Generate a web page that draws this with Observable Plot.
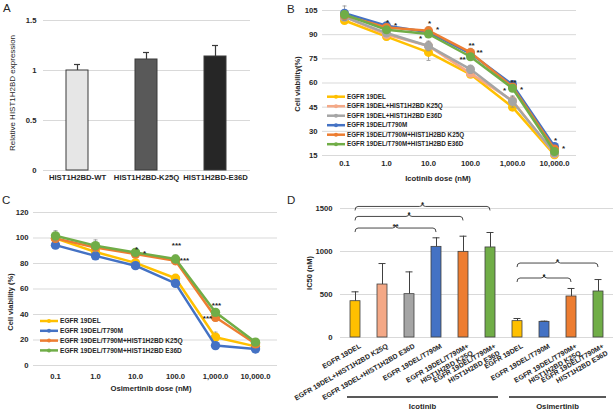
<!DOCTYPE html>
<html><head><meta charset="utf-8">
<script src="https://cdn.jsdelivr.net/npm/d3@7"></script>
<script src="https://cdn.jsdelivr.net/npm/@observablehq/plot@0.6"></script>
<style>
html,body{margin:0;padding:0;background:#fff;}
#fig{position:relative;width:615px;height:412px;overflow:hidden;background:#fff;}
</style></head><body><div id="fig"></div>
<script>
// ---------- Panel A data ----------
const aGroups = ["HIST1H2BD-WT", "HIST1H2BD-K25Q", "HIST1H2BD-E36D"];
const aValues = [1.0, 1.11, 1.14];
const aErrors = [0.06, 0.07, 0.11];
const aYTicks = [0, 0.5, 1, 1.5];
const aColors = ["#e6e6e6", "#595959", "#262626"];

// ---------- Panel B data (Icotinib) ----------
const doses = ["0.1", "1.0", "10.0", "100.0", "1,000.0", "10,000.0"];
const bSeries = ["EGFR 19DEL", "EGFR 19DEL+HIST1H2BD K25Q", "EGFR 19DEL+HIST1H2BD E36D",
  "EGFR 19DEL/T790M", "EGFR 19DEL/T790M+HIST1H2BD K25Q", "EGFR 19DEL/T790M+HIST1H2BD E36D"];
const bValues = [
  [98.8, 88.8, 79.0, 65.4, 45.0, 15.4],
  [101.0, 90.0, 83.0, 66.0, 49.0, 16.0],
  [101.0, 91.0, 83.0, 68.5, 48.5, 16.5],
  [103.3, 95.6, 91.5, 78.3, 59.0, 20.6],
  [102.0, 94.5, 92.5, 79.0, 57.5, 19.0],
  [102.5, 93.0, 90.4, 76.3, 56.7, 17.5]
];
const bErrors = [
  [1.5, 2.0, 5.0, 2.0, 2.0, 1.0],
  [1.5, 1.5, 2.5, 2.0, 2.5, 1.0],
  [2.0, 2.0, 3.0, 2.5, 3.5, 1.0],
  [4.5, 1.5, 2.0, 2.0, 1.5, 1.0],
  [2.5, 1.5, 2.5, 2.5, 2.0, 1.5],
  [2.5, 1.5, 2.0, 2.0, 2.0, 1.5]
];
const bYTicks = [15, 30, 45, 60, 75, 90, 105];
const bColors = ["#FFC000", "#F4A886", "#A5A5A5", "#4472C4", "#ED7D31", "#70AD47"];
const bStars = [
  {dose: "1.0", y: 99.2, text: "*", side: "center"},
  {dose: "1.0", y: 97.1, text: "*", side: "right"},
  {dose: "10.0", y: 98.4, text: "*", side: "center"},
  {dose: "10.0", y: 95.0, text: "*", side: "right"},
  {dose: "10.0", y: 89.5, text: "*", side: "left"},
  {dose: "100.0", y: 84.7, text: "**", side: "center"},
  {dose: "100.0", y: 80.6, text: "**", side: "right"},
  {dose: "100.0", y: 76.0, text: "**", side: "left"},
  {dose: "1,000.0", y: 62.2, text: "**", side: "center"},
  {dose: "1,000.0", y: 57.0, text: "*", side: "left"},
  {dose: "1,000.0", y: 57.8, text: "*", side: "right"},
  {dose: "10,000.0", y: 26.0, text: "*", side: "center"},
  {dose: "10,000.0", y: 21.2, text: "*", side: "right"}
];

// ---------- Panel C data (Osimertinib) ----------
const cSeries = ["EGFR 19DEL", "EGFR 19DEL/T790M", "EGFR 19DEL/T790M+HIST1H2BD K25Q", "EGFR 19DEL/T790M+HIST1H2BD E36D"];
const cValues = [
  [99.7, 89.0, 80.5, 68.4, 22.2, 15.0],
  [94.4, 86.0, 78.3, 64.4, 15.6, 13.0],
  [99.7, 92.6, 87.4, 82.2, 37.8, 17.0],
  [101.7, 94.0, 88.7, 83.5, 41.7, 18.3]
];
const cErrors = [
  [2.0, 2.0, 2.5, 2.0, 4.0, 1.0],
  [1.5, 1.5, 1.5, 1.5, 1.5, 1.0],
  [3.0, 3.0, 2.0, 3.0, 3.0, 1.5],
  [4.0, 4.5, 2.0, 3.0, 2.5, 1.5]
];
const cYTicks = [0, 20, 40, 60, 80, 100, 120];
const cColors = ["#FFC000", "#4472C4", "#ED7D31", "#70AD47"];
const cStars = [
  {dose: "10.0", y: 92.6, text: "*", side: "center"},
  {dose: "10.0", y: 90.0, text: "*", side: "right"},
  {dose: "100.0", y: 96.5, text: "***", side: "center"},
  {dose: "100.0", y: 84.0, text: "***", side: "right"},
  {dose: "1,000.0", y: 49.0, text: "***", side: "center"},
  {dose: "1,000.0", y: 39.0, text: "***", side: "left"}
];

// ---------- Panel D data (IC50) ----------
const dDrugs = ["Icotinib", "Icotinib", "Icotinib", "Icotinib", "Icotinib", "Icotinib",
  "Osimertinib", "Osimertinib", "Osimertinib", "Osimertinib"];
const dLabels = ["EGFR 19DEL", "EGFR 19DEL+HIST1H2BD K25Q", "EGFR 19DEL+HIST1H2BD E36D", "EGFR 19DEL/T790M",
  "EGFR 19DEL/T790M+\nHIST1H2BD K25Q", "EGFR 19DEL/T790M+\nHIST1H2BD E36D",
  "EGFR 19DEL", "EGFR 19DEL/T790M", "EGFR 19DEL/T790M+\nHIST1H2BD K25Q", "EGFR 19DEL/T790M+\nHIST1H2BD E36D"];
const dValues = [422, 616, 504, 1054, 996, 1047, 190, 182, 477, 535];
const dErrors = [109, 244, 259, 105, 182, 174, 31, 8, 93, 139];
const dYTicks = [0, 500, 1000, 1500];
const dGroups = ["Icotinib", "Osimertinib"];
const dColors = ["#FFC000", "#F4A886", "#A5A5A5", "#4472C4", "#ED7D31", "#70AD47", "#FFC000", "#4472C4", "#ED7D31", "#70AD47"];
const dBrackets = [
  {from: 0, to: 3, y: 1267, text: "**"},
  {from: 0, to: 4, y: 1402, text: "*"},
  {from: 0, to: 5, y: 1518, text: "*"},
  {from: 6, to: 8, y: 686, text: "*"},
  {from: 6, to: 9, y: 860, text: "*"}
];

// ---------- helpers ----------
const fig = document.getElementById("fig");
const FONT = '"Liberation Sans", Arial, Helvetica, sans-serif';
const TXT = "#262626";
function styleFor(fs) {
  return `overflow:visible;background:transparent;font-family:${FONT};font-size:${fs}px;font-weight:bold;color:${TXT};max-width:none;`;
}
function place(svg, left, top) {
  svg.style.position = "absolute";
  svg.style.left = left + "px";
  svg.style.top = top + "px";
  fig.appendChild(svg);
  return svg;
}
const capSymbol = {
  draw(ctx, size) { const w = Math.sqrt(size / Math.PI); ctx.moveTo(-w, 0); ctx.lineTo(w, 0); }
};
const sideDx = {left: -8, center: 1, right: 9};

function lineMarks(series, values, errors, colors, stars, r) {
  const marks = [];
  series.forEach((s, i) => {
    const rows = doses.map((d, j) => ({dose: d, value: values[i][j], err: errors[i][j]}));
    marks.push(
      Plot.ruleX(rows, {x: "dose", y1: d => d.value - d.err, y2: d => d.value + d.err, stroke: "#8c8c8c", strokeWidth: 0.8}),
      Plot.dot(rows, {x: "dose", y: d => d.value + d.err, symbol: capSymbol, r: 2, fill: "none", stroke: "#8c8c8c", strokeWidth: 0.8}),
      Plot.dot(rows, {x: "dose", y: d => d.value - d.err, symbol: capSymbol, r: 2, fill: "none", stroke: "#8c8c8c", strokeWidth: 0.8}),
      Plot.line(rows, {x: "dose", y: "value", stroke: colors[i], strokeWidth: 2.5}),
      Plot.dot(rows, {x: "dose", y: "value", fill: colors[i], r: r})
    );
  });
  for (const side of ["left", "center", "right"]) {
    marks.push(Plot.text(stars.filter(d => d.side === side),
      {x: "dose", y: "y", text: "text", dx: sideDx[side], dy: 2.5, fontSize: 8, fill: TXT}));
  }
  return marks;
}
function legend(svg, series, colors, x0, y0, step, fs) {
  const g = d3.select(svg).append("g").attr("text-anchor", "start");
  series.forEach((s, i) => {
    const y = y0 + i * step;
    g.append("line").attr("x1", x0).attr("x2", x0 + 18).attr("y1", y).attr("y2", y)
      .attr("stroke", colors[i]).attr("stroke-width", 2.5);
    g.append("circle").attr("cx", x0 + 9).attr("cy", y).attr("r", 2).attr("fill", colors[i]);
    g.append("text").attr("x", x0 + 20).attr("y", y).attr("dy", "0.35em").attr("text-anchor", "start")
      .attr("font-size", fs).attr("fill", TXT).text(s);
  });
}

// ---------- Panel A ----------
const aRows = aGroups.map((g, i) => ({group: g, value: aValues[i], err: aErrors[i]}));
const plotA = Plot.plot({
  width: 300, height: 195, marginLeft: 43, marginRight: 50, marginTop: 20, marginBottom: 25,
  style: styleFor(7.7),
  x: {domain: aGroups, paddingInner: 0.68, paddingOuter: 0.34, label: null, tickSize: 0, tickPadding: 4},
  y: {domain: [0, 1.5], ticks: aYTicks, tickFormat: d => String(d), label: null, tickSize: 0, tickPadding: 7},
  color: {domain: aGroups, range: aColors},
  marks: [
    Plot.ruleY(aYTicks, {stroke: "#d9d9d9"}),
    Plot.barY(aRows, {x: "group", y: "value", fill: "group", stroke: "#3a3a3a", strokeWidth: 1}),
    Plot.ruleX(aRows, {x: "group", y1: "value", y2: d => d.value + d.err, stroke: "#3a3a3a", strokeWidth: 1.2}),
    Plot.tickY(aRows, {x: "group", y: d => d.value + d.err, stroke: "#3a3a3a", strokeWidth: 1.2, insetLeft: 8, insetRight: 8})
  ]
});
place(plotA, 0, 0);

// ---------- Panel B ----------
const plotB = Plot.plot({
  width: 320, height: 195, marginLeft: 27, marginRight: 39, marginTop: 10, marginBottom: 40,
  style: styleFor(7.7),
  x: {type: "point", domain: doses, padding: 0.5, label: null, tickSize: 0, tickPadding: 5},
  y: {domain: [15, 105], ticks: bYTicks, label: null, tickSize: 0, tickPadding: 5},
  marks: [Plot.ruleY(bYTicks, {stroke: "#d9d9d9"}), ...lineMarks(bSeries, bValues, bErrors, bColors, bStars, 4.5)]
});
legend(plotB, bSeries, bColors, 32, 96.7, 9.5, 6.3);
place(plotB, 295, 0);

// ---------- Panel C ----------
const plotC = Plot.plot({
  width: 290, height: 217, marginLeft: 33, marginRight: 13, marginTop: 17, marginBottom: 47,
  style: styleFor(7.7),
  x: {type: "point", domain: doses, padding: 0.5, label: null, tickSize: 0, tickPadding: 8},
  y: {domain: [0, 120], ticks: cYTicks, label: null, tickSize: 0, tickPadding: 5},
  marks: [Plot.ruleY(cYTicks, {stroke: "#d9d9d9"}), ...lineMarks(cSeries, cValues, cErrors, cColors, cStars, 4.7)]
});
legend(plotC, cSeries, cColors, 40, 126, 9.8, 6.6);
place(plotC, 0, 195);

// ---------- Panel D ----------
const dKeys = dLabels.map((l, i) => dDrugs[i] + "|" + l);
const dRows = dKeys.map((k, i) => ({key: k, label: dLabels[i], value: dValues[i], err: dErrors[i]}));
const plotD = Plot.plot({
  width: 335, height: 217, marginLeft: 60, marginRight: 2, marginTop: 13, marginBottom: 75,
  style: styleFor(7.7),
  x: {domain: dKeys, paddingInner: 0.63, paddingOuter: 0.315, axis: null},
  y: {domain: [0, 1500], ticks: dYTicks, tickFormat: d => String(d), label: null, tickSize: 0, tickPadding: 8},
  color: {domain: dKeys, range: dColors},
  marks: [
    Plot.ruleY(dYTicks, {stroke: "#d9d9d9"}),
    Plot.barY(dRows, {x: "key", y: "value", fill: "key", stroke: "#404040", strokeWidth: 0.8}),
    Plot.ruleX(dRows, {x: "key", y1: "value", y2: d => d.value + d.err, stroke: "#404040", strokeWidth: 1}),
    Plot.tickY(dRows, {x: "key", y: d => d.value + d.err, stroke: "#404040", strokeWidth: 1, insetLeft: 1.5, insetRight: 1.5}),
    Plot.text(dRows, {x: "key", text: "label", frameAnchor: "bottom", rotate: -30, textAnchor: "end",
      lineAnchor: "top", dx: 3, dy: 5, fontSize: 7, lineHeight: 1.15, fill: TXT})
  ]
});
{
  const xs = plotD.scale("x"), ys = plotD.scale("y");
  const bw = xs.bandwidth;
  const cx = i => xs.apply(dKeys[i]) + bw / 2;
  const g = d3.select(plotD).append("g");
  dBrackets.forEach(b => {
    const x1 = cx(b.from), x2 = cx(b.to), y = ys.apply(b.y), m = (x1 + x2) / 2;
    g.append("path")
      .attr("d", `M${x1},${y + 4}Q${x1},${y} ${x1 + 3},${y}L${m - 3},${y}Q${m},${y} ${m},${y - 3}Q${m},${y} ${m + 3},${y}L${x2 - 3},${y}Q${x2},${y} ${x2},${y + 4}`)
      .attr("fill", "none").attr("stroke", "#333").attr("stroke-width", 0.9);
    g.append("text").attr("x", m).attr("y", y + 0.5).attr("text-anchor", "middle")
      .attr("font-size", 8).attr("fill", TXT).text(b.text);
  });
  const yLine = ys.apply(0) + 60;
  dGroups.forEach(grp => {
    const idx = dDrugs.map((d, i) => d === grp ? i : -1).filter(i => i >= 0);
    const x1 = xs.apply(dKeys[idx[0]]) - 3;
    const x2 = xs.apply(dKeys[idx[idx.length - 1]]) + bw + 3;
    g.append("line").attr("x1", x1).attr("x2", x2).attr("y1", yLine).attr("y2", yLine)
      .attr("stroke", "#595959").attr("stroke-width", 1.8);
    g.append("text").attr("x", (x1 + x2) / 2).attr("y", yLine + 9).attr("dy", "0.35em")
      .attr("text-anchor", "middle").attr("font-size", 7.7).attr("fill", TXT).text(grp);
  });
}
place(plotD, 280, 195);

// ---------- Overlay: panel letters and axis titles ----------
const ov = d3.create("svg").attr("width", 615).attr("height", 412)
  .attr("style", `position:absolute;left:0;top:0;overflow:visible;font-family:${FONT};`);
const letters = [["A", 3, 12], ["B", 287, 13], ["C", 2, 204], ["D", 287, 204]];
letters.forEach(([t, x, y]) => ov.append("text").attr("x", x).attr("y", y).attr("font-size", 11.5).attr("fill", TXT).text(t));
function title(t, x, y, rot, weight, fs) {
  ov.append("text").attr("transform", `translate(${x},${y})` + (rot ? " rotate(-90)" : ""))
    .attr("text-anchor", "middle").attr("dy", "0.35em").attr("font-size", fs)
    .attr("font-weight", weight).attr("fill", TXT).text(t);
}
title("Relative HIST1H2BD expression", 12, 93, true, "normal", 8);
title("Icotinib dose (nM)", 438, 178, false, "bold", 7.7);
title("Cell viability(%)", 297, 84, true, "bold", 7.5);
title("Osimertinib dose (nM)", 151, 388, false, "bold", 7.7);
title("Cell viability (%)", 10, 302, true, "bold", 7.5);
title("IC50 (nM)", 309, 273, true, "bold", 7.5);
fig.appendChild(ov.node());
</script></body></html>
